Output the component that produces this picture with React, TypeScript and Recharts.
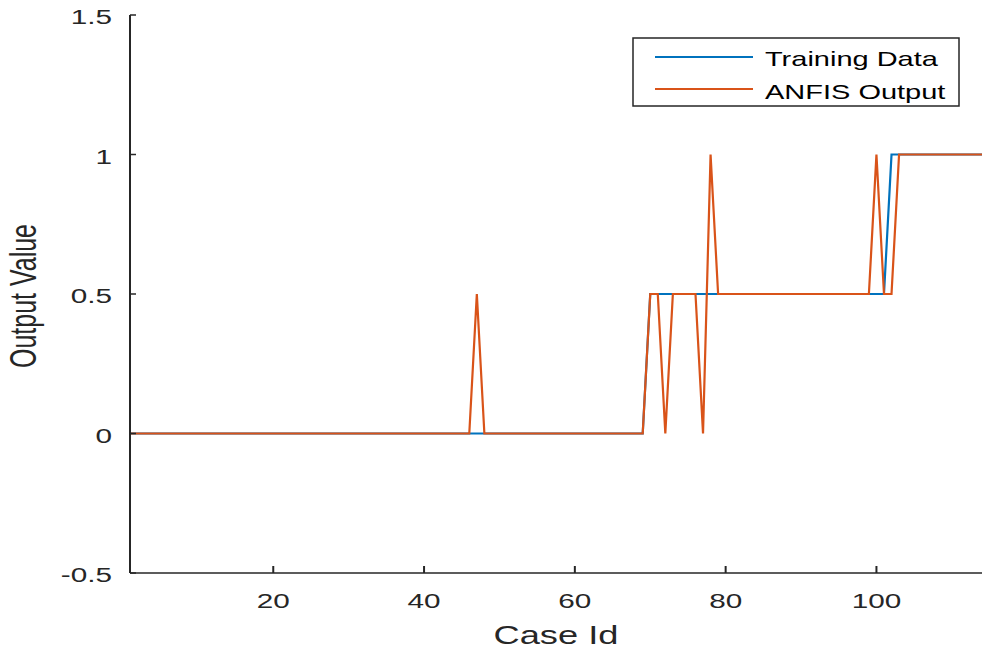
import React from 'react';
import { LineChart, Line, XAxis, YAxis, Legend } from 'recharts';

// Case ids (x categories)
const caseIds: number[] = Array.from({ length: 114 }, (_, i) => i + 1);

// Training data values, case 1..114
const trainingData: number[] = [
  0, 0, 0, 0, 0, 0, 0, 0, 0, 0,
  0, 0, 0, 0, 0, 0, 0, 0, 0, 0,
  0, 0, 0, 0, 0, 0, 0, 0, 0, 0,
  0, 0, 0, 0, 0, 0, 0, 0, 0, 0,
  0, 0, 0, 0, 0, 0, 0, 0, 0, 0,
  0, 0, 0, 0, 0, 0, 0, 0, 0, 0,
  0, 0, 0, 0, 0, 0, 0, 0, 0, 0.5,
  0.5, 0.5, 0.5, 0.5, 0.5, 0.5, 0.5, 0.5, 0.5, 0.5,
  0.5, 0.5, 0.5, 0.5, 0.5, 0.5, 0.5, 0.5, 0.5, 0.5,
  0.5, 0.5, 0.5, 0.5, 0.5, 0.5, 0.5, 0.5, 0.5, 0.5,
  0.5, 1, 1, 1, 1, 1, 1, 1, 1, 1,
  1, 1, 1, 1,
];

// ANFIS output values, case 1..114
const anfisOutput: number[] = [
  0, 0, 0, 0, 0, 0, 0, 0, 0, 0,
  0, 0, 0, 0, 0, 0, 0, 0, 0, 0,
  0, 0, 0, 0, 0, 0, 0, 0, 0, 0,
  0, 0, 0, 0, 0, 0, 0, 0, 0, 0,
  0, 0, 0, 0, 0, 0, 0.5, 0, 0, 0,
  0, 0, 0, 0, 0, 0, 0, 0, 0, 0,
  0, 0, 0, 0, 0, 0, 0, 0, 0, 0.5,
  0.5, 0, 0.5, 0.5, 0.5, 0.5, 0, 1, 0.5, 0.5,
  0.5, 0.5, 0.5, 0.5, 0.5, 0.5, 0.5, 0.5, 0.5, 0.5,
  0.5, 0.5, 0.5, 0.5, 0.5, 0.5, 0.5, 0.5, 0.5, 1,
  0.5, 0.5, 1, 1, 1, 1, 1, 1, 1, 1,
  1, 1, 1, 1,
];

const xTicks: number[] = [20, 40, 60, 80, 100];
const yTicks: number[] = [-0.5, 0, 0.5, 1, 1.5];
const seriesKeys: string[] = ['training', 'anfis'];
const seriesNames: string[] = ['Training Data', 'ANFIS Output'];
const seriesColors: string[] = ['#0072BD', '#D95319'];
const xLabel = 'Case Id';
const yLabel = 'Output Value';

const data = caseIds.map((id, i) => ({
  id,
  training: trainingData[i],
  anfis: anfisOutput[i],
}));

const SX = 1.45;
const FONT = '"Liberation Sans", Arial, Helvetica, sans-serif';
const INK = '#262626';

const XTick = (props: any) => {
  const { x, y, payload } = props;
  return (
    <g>
      <line x1={x} x2={x} y1={y} y2={y - 7} stroke={INK} strokeWidth={2} />
      <text
        transform={`translate(${x},${y + 35}) scale(${SX},1)`}
        textAnchor="middle"
        fontSize={20.5}
        fill={INK}
        fontFamily={FONT}
      >
        {payload.value}
      </text>
    </g>
  );
};

const TopTick = (props: any) => {
  const { x, y } = props;
  return <line x1={x} x2={x} y1={y} y2={y + 7} stroke={INK} strokeWidth={2} />;
};

const YTick = (props: any) => {
  const { x, y, payload } = props;
  return (
    <g>
      <line x1={x} x2={x + 6} y1={y} y2={y} stroke={INK} strokeWidth={1.5} />
      <text
        transform={`translate(${x - 18},${y + 9}) scale(${SX},1)`}
        textAnchor="end"
        fontSize={20.5}
        fill={INK}
        fontFamily={FONT}
      >
        {payload.value}
      </text>
    </g>
  );
};

const XLabelContent = (props: any) => {
  const vb = props.viewBox || { x: 130, y: 573, width: 852, height: 77 };
  return (
    <text
      transform={`translate(${vb.x + vb.width / 2},${vb.y + 71}) scale(${SX},1)`}
      textAnchor="middle"
      fontSize={25}
      fill={INK}
      fontFamily={FONT}
    >
      {xLabel}
    </text>
  );
};

const YLabelContent = (props: any) => {
  const vb = props.viewBox || { x: 0, y: 15, width: 130, height: 558 };
  return (
    <text
      transform={`translate(${vb.x + 36},${vb.y + vb.height / 2 + 2}) scale(${SX},1) rotate(-90)`}
      textAnchor="middle"
      fontSize={25}
      fill={INK}
      fontFamily={FONT}
    >
      {yLabel}
    </text>
  );
};

const LegendBox = () => (
  <svg width={330} height={72} style={{ display: 'block' }}>
    <rect x={1} y={1} width={326} height={68} fill="#fff" stroke={INK} strokeWidth={1.5} />
    {seriesNames.map((name, i) => (
      <g key={name}>
        <line x1={23} x2={121} y1={20 + 32 * i} y2={20 + 32 * i} stroke={seriesColors[i]} strokeWidth={2} />
        <text
          transform={`translate(133,${29 + 33 * i}) scale(${SX},1)`}
          fontSize={20}
          fill="#000"
          fontFamily={FONT}
        >
          {name}
        </text>
      </g>
    ))}
  </svg>
);

export default function App() {
  return (
    <div style={{ position: 'absolute', left: 0, top: 0, background: '#fff' }}>
      <LineChart
        width={982}
        height={650}
        data={data}
        margin={{ top: 15, right: 0, bottom: 0, left: 0 }}
        style={{ fontFamily: FONT, background: '#fff' }}
      >
        <XAxis
          xAxisId="bottom"
          dataKey="id"
          type="number"
          domain={[1, 114]}
          ticks={xTicks}
          allowDataOverflow
          height={77}
          tickSize={0}
          tickMargin={0}
          tickLine={false}
          axisLine={{ stroke: INK, strokeWidth: 1.5 }}
          tick={<XTick />}
          label={{ value: xLabel, content: <XLabelContent /> }}
        />
        <XAxis
          xAxisId="top"
          orientation="top"
          dataKey="id"
          type="number"
          domain={[1, 114]}
          ticks={xTicks}
          allowDataOverflow
          height={0}
          tickSize={0}
          tickMargin={0}
          tickLine={false}
          axisLine={{ stroke: INK, strokeWidth: 1.5 }}
          tick={<TopTick />}
        />
        <YAxis
          type="number"
          domain={[-0.5, 1.5]}
          ticks={yTicks}
          allowDataOverflow
          width={130}
          tickSize={0}
          tickMargin={0}
          tickLine={false}
          axisLine={{ stroke: INK, strokeWidth: 2 }}
          tick={<YTick />}
          label={{ value: yLabel, content: <YLabelContent /> }}
        />
        <Legend
          layout="vertical"
          align="center"
          verticalAlign="middle"
          wrapperStyle={{ position: 'absolute', left: 632, top: 37, width: 330, height: 72 }}
          content={<LegendBox />}
        />
        {seriesKeys.map((k, i) => (
          <Line
            key={k}
            xAxisId="bottom"
            type="linear"
            dataKey={k}
            name={seriesNames[i]}
            stroke={seriesColors[i]}
            strokeWidth={2.2}
            dot={false}
            activeDot={false}
            isAnimationActive={false}
          />
        ))}
      </LineChart>
    </div>
  );
}
